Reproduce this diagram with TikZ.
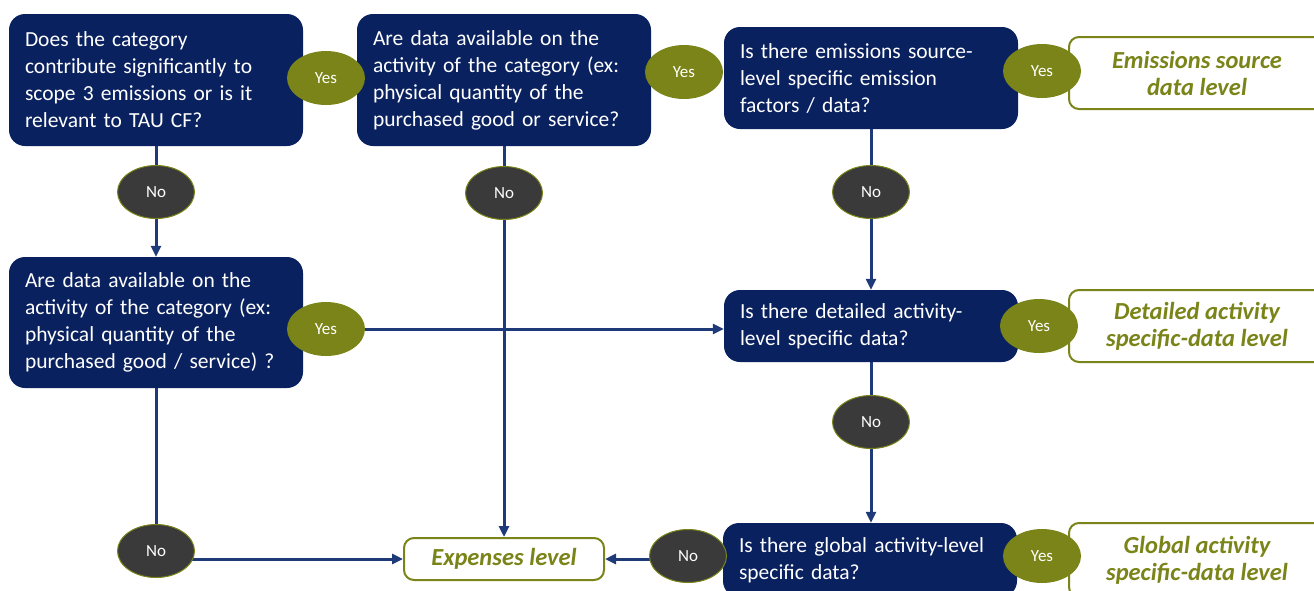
\documentclass[tikz,border=0pt]{standalone}
\usepackage{fontspec}
\setmainfont{Carlito}
\usetikzlibrary{shapes.geometric,arrows.meta,backgrounds}
\definecolor{navy}{HTML}{0A215F}
\definecolor{linec}{HTML}{1F3A78}
\definecolor{olive}{HTML}{7A8418}
\definecolor{dgray}{HTML}{3A3A3A}
\tikzset{
  qbox/.style={rectangle, rounded corners=16pt, fill=navy, text=white,
    font=\fontsize{21.5}{27}\selectfont, align=left, text width=262pt,
    inner xsep=16pt, inner ysep=0pt},
  yesel/.style={ellipse, fill=olive, text=white, minimum width=78pt,
    minimum height=54pt, inner sep=0pt, font=\fontsize{17}{19}\selectfont},
  noel/.style={ellipse, fill=dgray, draw=olive, line width=1pt, text=white,
    minimum width=77pt, minimum height=53pt, inner sep=0pt,
    font=\fontsize{17}{19}\selectfont},
  resbox/.style={rectangle, rounded corners=10pt, draw=olive, line width=2pt,
    fill=white, text=olive, align=center, inner sep=0pt,
    font=\fontsize{24.5}{27}\selectfont\bfseries\itshape},
  conn/.style={draw=linec, line width=3pt},
  arr/.style={conn, -{Triangle[length=11pt,width=10pt]}}
}
\begin{document}
\begin{tikzpicture}[x=1pt,y=-1pt]
\clip (0,0) rectangle (1314,590);
% question boxes
\node[qbox, minimum height=132pt] (b1) at (156,80) {Does the category\\contribute significantly to\\scope 3 emissions or is it\\relevant to TAU CF?};
\node[qbox, minimum height=132pt] (b2) at (504,80) {Are data available on the\\activity of the category (ex:\\physical quantity of the\\purchased good or service?};
\node[qbox, minimum height=102pt] (b3) at (871,78) {Is there emissions source-\\level specific emission\\factors / data?};
\node[qbox, minimum height=131pt] (b4) at (156,322.5) {Are data available on the\\activity of the category (ex:\\physical quantity of the\\purchased good / service) ?};
\node[qbox, minimum height=72pt] (b5) at (871,326) {Is there detailed activity-\\level specific data?};
\node[qbox, minimum height=74pt] (b6) at (870,560) {Is there global activity-level\\specific data?};
% result boxes
\node[resbox, minimum width=256pt, minimum height=72pt] (r1) at (1197,73) {Emissions source\\data level};
\node[resbox, minimum width=256pt, minimum height=72pt] (r2) at (1197,326) {Detailed activity\\specific-data level};
\node[resbox, minimum width=256pt, minimum height=74pt] (r3) at (1197,560) {Global activity\\specific-data level};
\node[resbox, minimum width=200pt, minimum height=42pt] (exp) at (504,559) {Expenses level};
% yes / no
\node[yesel] (y1) at (326,78) {Yes};
\node[yesel] (y2) at (684,72) {Yes};
\node[yesel] (y3) at (1042,71) {Yes};
\node[yesel] (y4) at (326,329) {Yes};
\node[yesel] (y5) at (1039,326) {Yes};
\node[yesel] (y6) at (1042,556) {Yes};
\node[noel] (n1) at (156,192) {No};
\node[noel] (n2) at (504,193) {No};
\node[noel] (n3) at (871,192) {No};
\node[noel] (n5) at (871,422) {No};
\node[noel] (n4) at (156,551) {No};
\node[noel] (n6) at (688,556) {No};
% connectors
\begin{scope}[on background layer]
\draw[conn] (b1) -- (n1);
\draw[arr] (n1) -- (b4.north);
\draw[conn] (b2) -- (n2);
\draw[arr] (n2) -- (exp.north);
\draw[conn] (b3) -- (n3);
\draw[arr] (n3) -- (b5.north);
\draw[arr] (y4) -- (y4 -| b5.west);
\draw[conn] (b5) -- (n5);
\draw[arr] (n5) -- (n5 |- b6.north);
\draw[conn] (b4) -- (n4);
\draw[arr] (n4 |- exp) -- (exp.west);
\draw[arr] (n6 |- exp) -- (exp.east);
\end{scope}
\end{tikzpicture}
\end{document}
